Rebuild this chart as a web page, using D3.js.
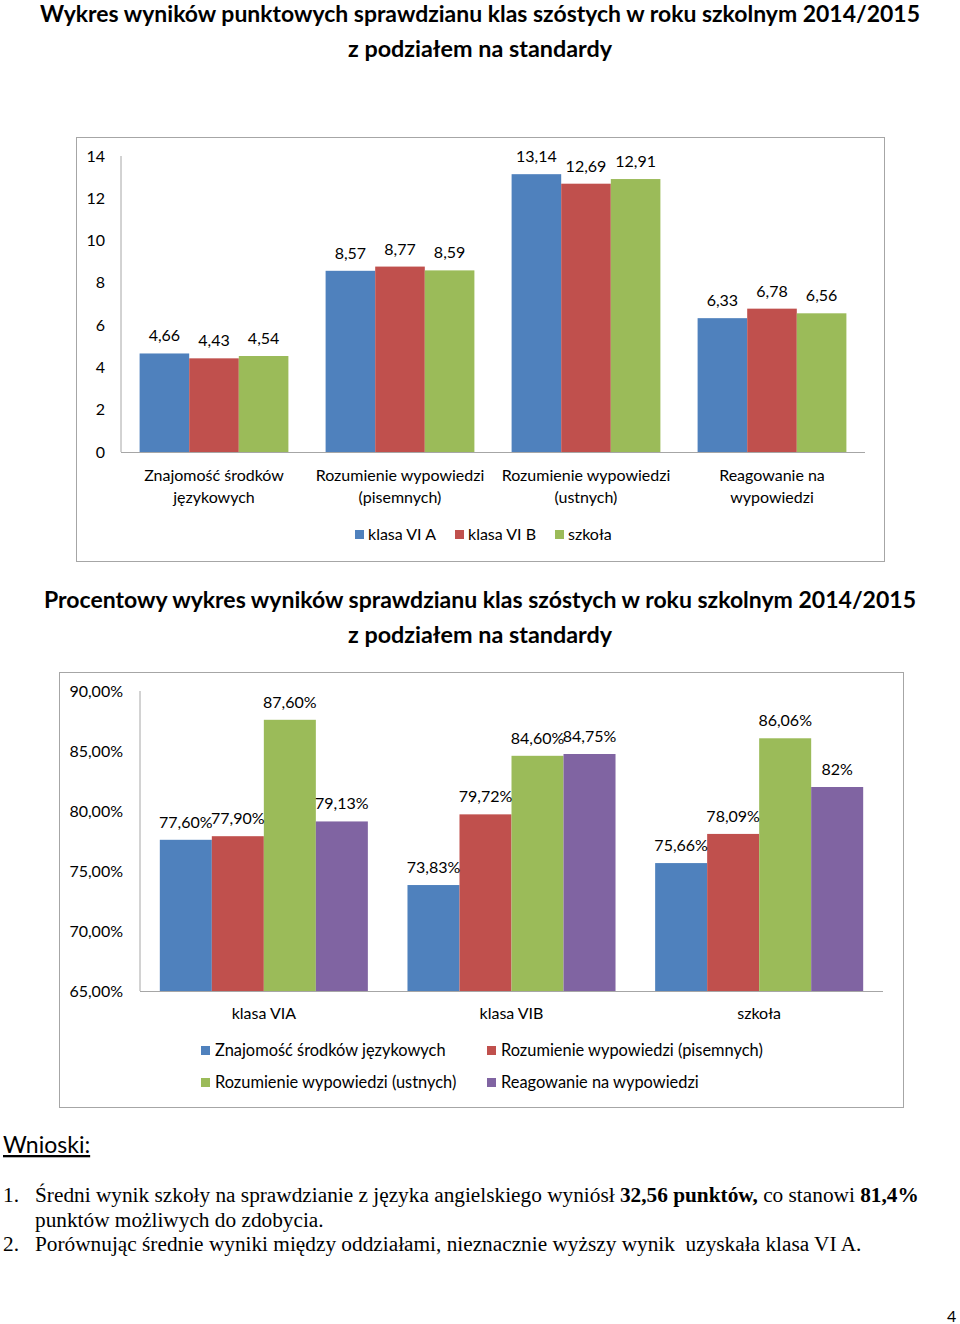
<!DOCTYPE html>
<html>
<head>
<meta charset="utf-8">
<script src="https://cdn.jsdelivr.net/npm/d3@7"></script>
<style>
  body { margin: 0; background: #fff; }
  svg { display: block; }
  text { font-family: Lato, "Open Sans", sans-serif; fill: #000; }
  .serif { font-family: "Liberation Serif", "Times New Roman", serif; white-space: pre; }
</style>
</head>
<body>
<div id="page"></div>
<script>
// ---- dane: wykres punktowy
const standardy = ["Znajomość środków|językowych", "Rozumienie wypowiedzi|(pisemnych)", "Rozumienie wypowiedzi|(ustnych)", "Reagowanie na|wypowiedzi"];
const klasy = ["klasa VI A", "klasa VI B", "szkoła"];
const punktyVIA = [4.66, 8.57, 13.14, 6.33];
const punktyVIB = [4.43, 8.77, 12.69, 6.78];
const punktySzkola = [4.54, 8.59, 12.91, 6.56];
const punktyTicks = [0, 2, 4, 6, 8, 10, 12, 14];

// ---- dane: wykres procentowy
const grupy = ["klasa VIA", "klasa VIB", "szkoła"];
const standardyLegenda = ["Znajomość środków językowych", "Rozumienie wypowiedzi (pisemnych)", "Rozumienie wypowiedzi (ustnych)", "Reagowanie na wypowiedzi"];
const procZnajomosc = [77.60, 73.83, 75.66];
const procPisemne = [77.90, 79.72, 78.09];
const procUstne = [87.60, 84.60, 86.06];
const procReagowanie = [79.13, 84.75, 82];
const procTicks = [65, 70, 75, 80, 85, 90];

const kolory = ["#4F81BD", "#C0504D", "#9BBB59", "#8064A2"];
const szary = "#A6A6A6";
const fs = 16; // rozmiar czcionki na wykresach

const svg = d3.select("#page").append("svg")
  .attr("width", 960).attr("height", 1324);

// dopasowanie szerokosci tekstu do oryginalu
function fit(sel, w) {
  sel.attr("textLength", w).attr("lengthAdjust", "spacingAndGlyphs");
}

function tytul(y, linia1, w1) {
  const t = svg.append("text").attr("x", 480).attr("y", y)
    .attr("text-anchor", "middle").attr("font-size", 23).attr("font-weight", "bold")
    .text(linia1);
  fit(t, w1);
  const t2 = svg.append("text").attr("x", 480).attr("y", y + 35)
    .attr("text-anchor", "middle").attr("font-size", 23).attr("font-weight", "bold")
    .text("z podziałem na standardy");
  fit(t2, 264);
}

//--------------------------------------------WYKRES 1-----------------------------------------
tytul(22, "Wykres wyników punktowych sprawdzianu klas szóstych w roku szkolnym 2014/2015", 880);

svg.append("rect").attr("x", 76.5).attr("y", 137.5).attr("width", 808).attr("height", 424)
  .attr("fill", "none").attr("stroke", szary);

const dane1 = standardy.map((s, i) => ({
  kat: s, vals: [punktyVIA[i], punktyVIB[i], punktySzkola[i]]
}));

const x1 = d3.scaleBand().domain(standardy).range([121, 865]).paddingInner(0.2).paddingOuter(0.1);
const xs1 = d3.scaleBand().domain(d3.range(3)).range([0, x1.bandwidth()]);
const y1 = d3.scaleLinear().domain([0, 14]).range([452, 156]);

const ax1 = svg.append("g").attr("transform", "translate(121,0)")
  .call(d3.axisLeft(y1).tickValues(punktyTicks).tickSize(0).tickPadding(16).tickFormat(d3.format("d")));
ax1.select(".domain").remove();
ax1.selectAll("text").attr("font-family", "Lato, sans-serif").attr("font-size", fs).attr("fill", "#000");

const g1 = svg.append("g").selectAll("g").data(dane1).join("g")
  .attr("transform", d => `translate(${x1(d.kat)},0)`);
g1.selectAll("rect").data(d => d.vals).join("rect")
  .attr("x", (d, i) => xs1(i))
  .attr("width", xs1.bandwidth())
  .attr("y", d => y1(d))
  .attr("height", d => y1(0) - y1(d))
  .attr("fill", (d, i) => kolory[i]);
g1.selectAll("text.val").data(d => d.vals).join("text").attr("class", "val")
  .attr("x", (d, i) => xs1(i) + xs1.bandwidth() / 2)
  .attr("y", d => y1(d) - 12)
  .attr("text-anchor", "middle").attr("font-size", fs)
  .text(d => d.toFixed(2).replace(".", ","));

// osie
svg.append("line").attr("x1", 121).attr("x2", 121).attr("y1", 156).attr("y2", 452).attr("stroke", szary);
svg.append("line").attr("x1", 121).attr("x2", 865).attr("y1", 452.5).attr("y2", 452.5).attr("stroke", szary);

// etykiety kategorii
standardy.forEach(s => {
  const t = svg.append("text").attr("text-anchor", "middle").attr("font-size", fs);
  s.split("|").forEach((l, j) => {
    t.append("tspan").attr("x", x1(s) + x1.bandwidth() / 2).attr("y", 481 + j * 22).text(l);
  });
});

// legenda
const leg1x = [355, 455, 555];
klasy.forEach((k, i) => {
  svg.append("rect").attr("x", leg1x[i]).attr("y", 530).attr("width", 9).attr("height", 9).attr("fill", kolory[i]);
  svg.append("text").attr("x", leg1x[i] + 13).attr("y", 540).attr("font-size", fs).text(k);
});

//--------------------------------------------WYKRES 2-----------------------------------------
tytul(608, "Procentowy wykres wyników sprawdzianu klas szóstych w roku szkolnym 2014/2015", 872);

svg.append("rect").attr("x", 59.5).attr("y", 672.5).attr("width", 844).attr("height", 435)
  .attr("fill", "none").attr("stroke", szary);

const dane2 = grupy.map((g, i) => ({
  kat: g, vals: [procZnajomosc[i], procPisemne[i], procUstne[i], procReagowanie[i]]
}));

const x2 = d3.scaleBand().domain(grupy).range([140, 883]).paddingInner(0.16).paddingOuter(0.08);
const xs2 = d3.scaleBand().domain(d3.range(4)).range([0, x2.bandwidth()]);
const y2 = d3.scaleLinear().domain([65, 90]).range([991, 691]);

const procFmt = v => (Number.isInteger(v) ? v : v.toFixed(2).replace(".", ",")) + "%";

const ax2 = svg.append("g").attr("transform", "translate(140,0)")
  .call(d3.axisLeft(y2).tickValues(procTicks).tickSize(0).tickPadding(17)
    .tickFormat(d => d.toFixed(2).replace(".", ",") + "%"));
ax2.select(".domain").remove();
ax2.selectAll("text").attr("font-family", "Lato, sans-serif").attr("font-size", fs).attr("fill", "#000");

const g2 = svg.append("g").selectAll("g").data(dane2).join("g")
  .attr("transform", d => `translate(${x2(d.kat)},0)`);
g2.selectAll("rect").data(d => d.vals).join("rect")
  .attr("x", (d, i) => xs2(i))
  .attr("width", xs2.bandwidth())
  .attr("y", d => y2(d))
  .attr("height", d => y2(65) - y2(d))
  .attr("fill", (d, i) => kolory[i]);
g2.selectAll("text.val").data(d => d.vals).join("text").attr("class", "val")
  .attr("x", (d, i) => xs2(i) + xs2.bandwidth() / 2)
  .attr("y", d => y2(d) - 12)
  .attr("text-anchor", "middle").attr("font-size", fs)
  .text(procFmt);

svg.append("line").attr("x1", 140).attr("x2", 140).attr("y1", 691).attr("y2", 991).attr("stroke", szary);
svg.append("line").attr("x1", 140).attr("x2", 883).attr("y1", 991.5).attr("y2", 991.5).attr("stroke", szary);

grupy.forEach(g => {
  svg.append("text").attr("x", x2(g) + x2.bandwidth() / 2).attr("y", 1019)
    .attr("text-anchor", "middle").attr("font-size", fs).text(g);
});

const leg2 = [[201, 1046], [487, 1046], [201, 1078], [487, 1078]];
standardyLegenda.forEach((s, i) => {
  svg.append("rect").attr("x", leg2[i][0]).attr("y", leg2[i][1]).attr("width", 9).attr("height", 9).attr("fill", kolory[i]);
  svg.append("text").attr("x", leg2[i][0] + 14).attr("y", leg2[i][1] + 10).attr("font-size", 16.4).text(s);
});

//--------------------------------------------WNIOSKI-----------------------------------------
svg.append("text").attr("x", 3).attr("y", 1153).attr("font-size", 23)
  .attr("text-decoration", "underline").text("Wnioski:");

const l1 = svg.append("text").attr("class", "serif").attr("x", 35).attr("y", 1202).attr("font-size", 21.3);
l1.append("tspan").text("Średni wynik szkoły na sprawdzianie z języka angielskiego wyniósł ");
l1.append("tspan").attr("font-weight", "bold").text("32,56 punktów,");
l1.append("tspan").text(" co stanowi ");
l1.append("tspan").attr("font-weight", "bold").text("81,4%");

svg.append("text").attr("class", "serif").attr("x", 3).attr("y", 1202).attr("font-size", 21.3).text("1.");
svg.append("text").attr("class", "serif").attr("x", 35).attr("y", 1227).attr("font-size", 21.3)
  .text("punktów możliwych do zdobycia.");
svg.append("text").attr("class", "serif").attr("x", 3).attr("y", 1251).attr("font-size", 21.3).text("2.");
svg.append("text").attr("class", "serif").attr("x", 35).attr("y", 1251).attr("font-size", 21.3)
  .text("Porównując średnie wyniki między oddziałami, nieznacznie wyższy wynik  uzyskała klasa VI A.");

svg.append("text").attr("x", 947).attr("y", 1322).attr("font-size", 16).text("4");
</script>
</body>
</html>
